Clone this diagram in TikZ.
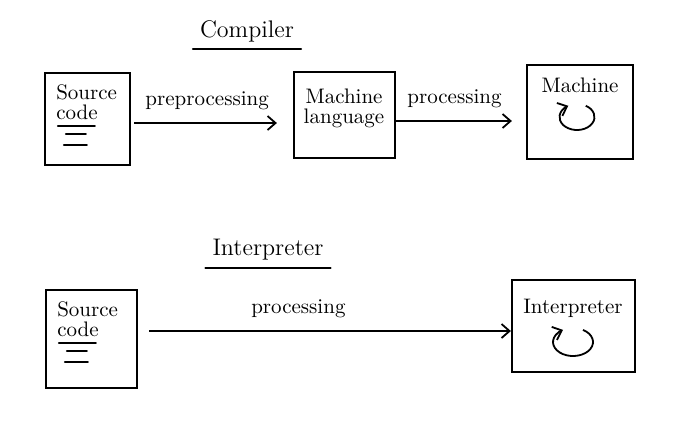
\documentclass[tikz,border=0pt]{standalone}
\usepackage{tikz}
\usetikzlibrary{arrows.meta}

\tikzset{
  box/.style={draw, line width=1.1pt, inner sep=0pt},
  arr/.style={-{Straight Barb[length=4pt,width=7pt]}, line width=0.9pt},
  strich/.style={line width=1pt, line cap=round},
  schrift/.style={font=\fontsize{10.5}{11}\selectfont},
}

\begin{document}
\begin{tikzpicture}[x=0.5pt, y=-0.5pt]
  \fill[white] (0,0) rectangle (694,420);
  \useasboundingbox (0,0) rectangle (694,420);

  % Titel
  \node[font=\large] (tcomp) at (247,31) {Compiler};
  \draw[strich] (tcomp.south west) -- (tcomp.south east);
  \node[font=\large] (tinterp) at (268,250) {Interpreter};
  \draw[strich] (tinterp.south west) -- (tinterp.south east);

  % Kaesten Compiler
  \node[box, minimum width=42.5pt, minimum height=46pt] (src1) at (87.5,119) {};
  \node[box, minimum width=50.5pt, minimum height=43pt] (ml) at (344.5,115) {};
  \node[box, minimum width=53pt, minimum height=47pt] (mach) at (580,112) {};

  % Kaesten Interpreter
  \node[box, minimum width=45.5pt, minimum height=49pt] (src2) at (91.5,339) {};
  \node[box, minimum width=61.5pt, minimum height=46pt] (interp) at (573.5,326) {};

  % Texte
  \node[schrift, anchor=north west, align=left, inner sep=0pt] (src1txt) at ([shift={(12,12)}]src1.north west) {Source\\[-1pt]code};
  \node[schrift, anchor=north west, align=left, inner sep=0pt] (src2txt) at ([shift={(12,12)}]src2.north west) {Source\\[-1pt]code};
  \node[schrift, align=center, inner sep=0pt] (mltxt) at (344,108) {Machine\\[-1pt]language};
  \node[schrift, inner sep=0pt] (machtxt) at (580,85) {Machine};
  \node[schrift, inner sep=0pt] (interptxt) at (573,308) {Interpreter};

  % Zeilen im Dokument
  \foreach \b in {src1,src2} {
    \draw[strich] ([shift={(14,54)}]\b.north west) -- ++(37,0);
    \draw[strich] ([shift={(22,62)}]\b.north west) -- ++(20,0);
    \draw[strich] ([shift={(20,73)}]\b.north west) -- ++(23,0);
  }

  % Pfeile
  \draw[arr, shorten <=1.5pt, shorten >=8pt] (src1.east |- 0,123) -- (ml.west |- 0,123)
    node[schrift, pos=0.47, above=3pt] (lblpre) {preprocessing};
  \draw[arr, shorten >=7pt] (ml.east |- 0,121) -- (mach.west |- 0,121)
    node[schrift, pos=0.45, above=3pt] (lblproc1) {processing};
  \draw[arr, shorten <=5.5pt] (src2.east |- 0,331) -- (interp.west |- 0,331)
    node[schrift, pos=0.43, above=3pt] (lblproc2) {processing};

  % Kreispfeile
  \coordinate (cyc1) at (577,117);
  \coordinate (cyc2) at (573,342);
  \draw[arr] ([shift={(60:8.75pt and 6.5pt)}]cyc1)
    arc[start angle=60, end angle=-240, x radius=8.75pt, y radius=6.5pt];
  \draw[arr] ([shift={(60:10pt and 7pt)}]cyc2)
    arc[start angle=60, end angle=-240, x radius=10pt, y radius=7pt];
\end{tikzpicture}
\end{document}
